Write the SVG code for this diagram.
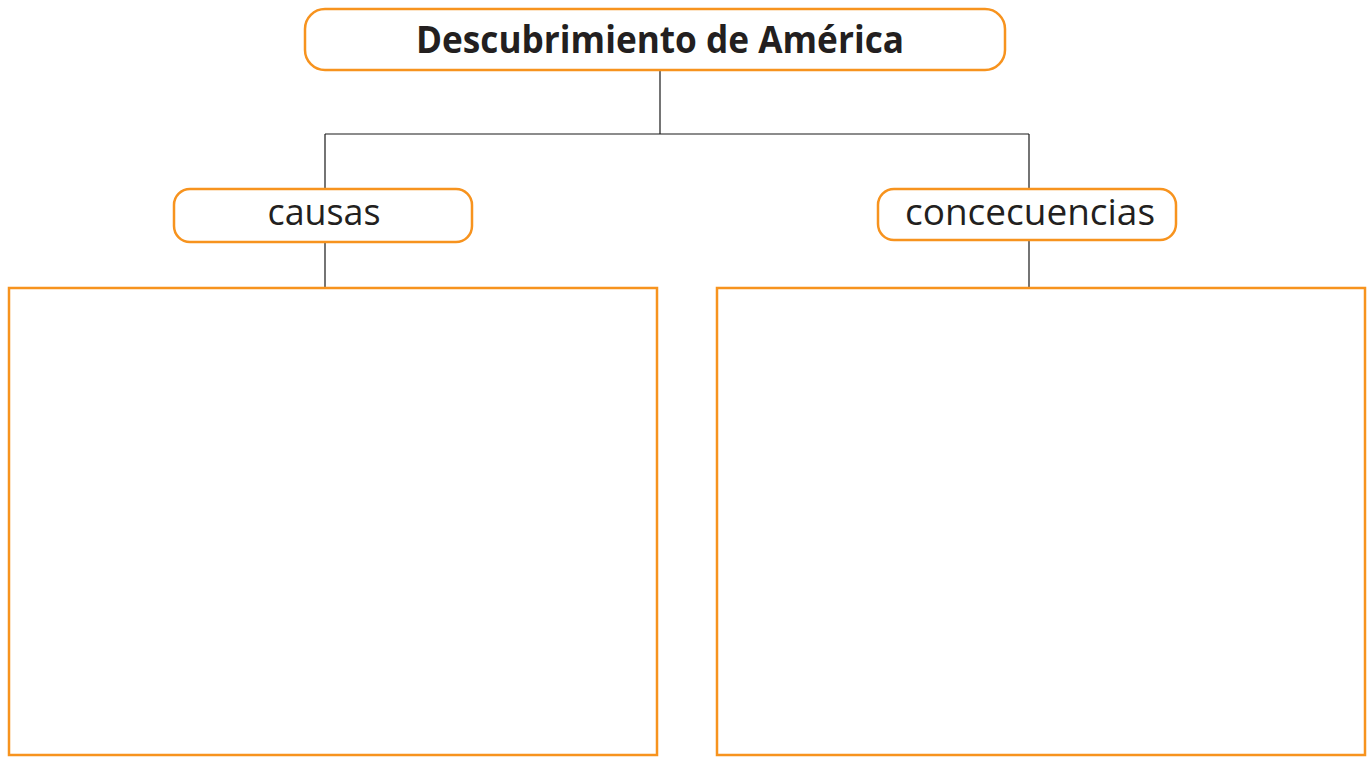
<svg xmlns="http://www.w3.org/2000/svg" width="1370" height="757" viewBox="0 0 1370 757">
<style>
.node{fill:#fff;stroke:#f7931e;stroke-width:2.5}
.box{fill:#fff;stroke:#f7931e;stroke-width:2.5}
.conn{stroke:#1a1a1a;stroke-width:1.2;fill:none}
text{font-family:"Open Sans","Noto Sans","Liberation Sans",sans-serif;fill:#231f20;text-anchor:middle}
.t{font-size:37px;font-weight:bold}
.s{font-size:37px}
</style>
<rect width="1370" height="757" fill="#fff"/>
<g id="connectors">
<path class="conn" d="M660 70V134M325 134H1029M325 134V189M1029 134V189M325 242V288M1029 240V288"/>
</g>
<g id="title">
<rect class="node" x="305" y="9" width="700" height="61" rx="20"/>
<text class="t" x="660" y="53" textLength="488" lengthAdjust="spacingAndGlyphs">Descubrimiento de América</text>
</g>
<g id="causas">
<rect class="node" x="174" y="189" width="298" height="53" rx="16"/>
<text class="s" x="324" y="225" textLength="113" lengthAdjust="spacingAndGlyphs">causas</text>
</g>
<g id="concecuencias">
<rect class="node" x="878" y="189" width="298" height="51" rx="16"/>
<text class="s" x="1030" y="225" textLength="250" lengthAdjust="spacingAndGlyphs">concecuencias</text>
</g>
<g id="causas-box">
<rect class="box" x="9" y="288" width="648" height="467"/>
</g>
<g id="concecuencias-box">
<rect class="box" x="717" y="288" width="648" height="467"/>
</g>
</svg>
